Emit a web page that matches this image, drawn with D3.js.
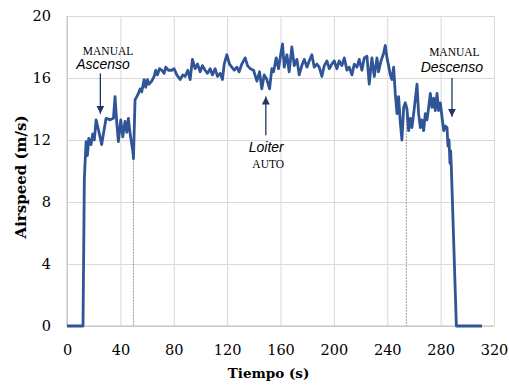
<!DOCTYPE html>
<html>
<head>
<meta charset="utf-8">
<script src="https://cdn.jsdelivr.net/npm/d3@7"></script>
<style>
  body { margin: 0; background: #fff; }
  svg { display: block; }
</style>
</head>
<body>
<div id="chart"></div>
<script>
// datos
const tiempo = [0, 12, 13, 14.3, 15.3, 16.3, 18, 19.3, 20.5, 21.8, 24, 26, 27.3, 29.3, 32.3, 34.8, 36, 37.3, 38.5,
  40.3, 41.8, 43.5, 44.8, 46, 47.3, 49.3, 49.8, 51, 52.3, 53.5, 54.8, 56, 57.8, 59, 60.3, 61.5, 63.5, 65.3,
  66.5, 67.8, 69.3, 71, 72.8, 74, 76, 78.5, 80.3, 82.3, 84.8, 86.8, 88.5, 90.5, 92.3, 94, 96, 97.8, 99.8,
  101.5, 103.5, 105.3, 107.3, 109, 111, 112.8, 114.8, 116.5, 117.8, 119.8, 121.8, 123.5, 125.3, 127.3, 129,
  131, 133.5, 135.3, 137.3, 139.8, 142.3, 144.3, 146, 147.8, 149.8, 151.8, 153.5, 154.8, 156.8, 158.5, 160.3,
  161.5, 162.8, 164.8, 166.5, 168.5, 170.3, 172.3, 174, 176, 177.8, 179.8, 181.5, 183.5, 185.3, 187.3, 189,
  191, 192.8, 194.8, 196.5, 198.5, 200.3, 202.3, 204, 206, 207.8, 209.8, 211.5, 213.5, 215.3, 217.3, 219,
  221, 222.8, 224.8, 226.5, 228.5, 230.3, 232.3, 233.5, 235.3, 237.3, 238.5, 239.8, 241, 242.3, 243.5, 244.8,
  246, 247.3, 248.5, 249.8, 251, 252.3, 253.5, 254.8, 256, 257.3, 258.5, 259.8, 261, 262.3, 263.5, 264.8,
  266, 267.3, 268.5, 269.8, 271, 272.3, 273.5, 274.8, 276, 277.3, 278.5, 279.8, 281, 282.3, 283.5, 284.8,
  285.5, 286.3, 287, 287.5, 288, 291.8, 311];
const airspeed = [0, 0, 9.5, 11.9, 11.0, 12.1, 11.7, 12.4, 12.0, 13.3, 12.5, 11.7, 12.4, 13.4, 13.3, 13.4, 14.8, 13.1, 11.9,
  13.3, 12.2, 13.2, 12.5, 13.4, 12.4, 11.3, 10.8, 14.6, 14.8, 15.0, 15.3, 15.1, 15.9, 15.4, 15.9, 15.6, 15.8, 16.1,
  16.5, 16.2, 16.6, 16.5, 16.3, 16.7, 16.5, 16.5, 16.6, 16.2, 15.9, 16.2, 16.1, 16.5, 15.9, 17.2, 16.6, 16.9, 16.4,
  16.8, 16.5, 16.3, 16.6, 16.2, 16.6, 16.1, 16.3, 15.9, 16.9, 17.5, 16.9, 16.7, 16.5, 16.7, 16.4,
  16.9, 17.3, 16.8, 16.6, 16.5, 15.8, 16.4, 15.3, 16.2, 15.9, 15.3, 16.6, 16.4, 17.3, 16.6, 17.6,
  18.2, 16.7, 17.5, 16.4, 18.0, 16.8, 17.2, 16.2, 16.8, 17.2, 16.7, 17.1, 17.5, 16.7, 16.9, 16.7,
  16.1, 16.8, 17.1, 16.6, 16.9, 17.1, 16.6, 17.1, 16.8, 17.3, 16.5, 16.7, 16.2, 16.9, 16.7, 17.2,
  16.5, 17.3, 17.4, 15.6, 17.3, 16.1, 17.3, 16.4, 17.1, 17.6, 18.1, 17.3, 16.8, 16.2, 15.9, 16.7,
  15.0, 13.7, 14.8, 13.1, 12.0, 14.1, 14.4, 14.0, 12.6, 13.4, 12.8, 13.7, 14.6, 15.6, 13.7, 12.8,
  13.3, 12.6, 13.7, 13.3, 14.1, 15.0, 14.1, 14.7, 13.9, 15.0, 13.9, 14.4, 13.5, 12.6, 12.9, 12.8,
  11.6, 12.0, 10.5, 11.3, 10.3, 0, 0];

const xTicks = [0, 40, 80, 120, 160, 200, 240, 280, 320];
const yTicks = [0, 4, 8, 12, 16, 20];

// cambios de modo (linea punteada)
const cambioTiempo = [49.8, 254.3];
const cambioValor = [10.8, 14.0];

const width = 509;
const height = 385;
const margin = {top: 16, right: 15, bottom: 59, left: 67};
const plotW = width - margin.left - margin.right;
const plotH = height - margin.top - margin.bottom;

const LINE_COLOR = '#2f5597';
const ARROW_COLOR = '#1f3864';

const x = d3.scaleLinear().domain([0, 320]).range([0, plotW]);
const y = d3.scaleLinear().domain([0, 20]).range([plotH, 0]);

const svg = d3.select('#chart')
  .append('svg')
  .attr('width', width)
  .attr('height', height);

const defs = svg.append('defs');
defs.append('marker')
  .attr('id', 'flecha')
  .attr('viewBox', '0 0 10 10')
  .attr('refX', 10)
  .attr('refY', 5)
  .attr('markerUnits', 'userSpaceOnUse')
  .attr('markerWidth', 8)
  .attr('markerHeight', 8)
  .attr('orient', 'auto')
  .append('path')
  .attr('d', 'M0,0 L10,5 L0,10 z')
  .attr('fill', ARROW_COLOR);

const g = svg.append('g')
  .attr('transform', `translate(${margin.left}, ${margin.top})`);

// rejilla y ejes
const yAxis = g.append('g')
  .call(d3.axisLeft(y).tickValues(yTicks).tickSizeInner(-plotW).tickSizeOuter(0).tickPadding(16));
yAxis.select('.domain').remove();
yAxis.selectAll('line').attr('stroke', '#d9d9d9');

const xAxis = g.append('g')
  .attr('transform', `translate(0, ${plotH})`)
  .call(d3.axisBottom(x).tickValues(xTicks).tickSizeInner(-plotH).tickSizeOuter(0).tickPadding(18.5));
xAxis.select('.domain').remove();
xAxis.selectAll('line').attr('stroke', '#d9d9d9');

g.selectAll('.tick text')
  .attr('fill', '#000')
  .style('font-family', '"DejaVu Serif", serif')
  .style('font-size', '14.5px');

g.append('line')
  .attr('x1', 0).attr('x2', 0).attr('y1', 0).attr('y2', plotH)
  .attr('stroke', '#bfbfbf');
g.append('line')
  .attr('x1', 0).attr('x2', plotW).attr('y1', plotH).attr('y2', plotH)
  .attr('stroke', '#bfbfbf');

// lineas punteadas
g.selectAll('.cambio')
  .data(cambioTiempo)
  .enter()
  .append('line')
  .attr('class', 'cambio')
  .attr('x1', d => x(d)).attr('x2', d => x(d))
  .attr('y1', (d, i) => y(cambioValor[i])).attr('y2', y(0))
  .attr('stroke', '#9a9a9a')
  .attr('stroke-width', 1)
  .attr('stroke-dasharray', '2,1');

// serie
const serie = tiempo.map((t, i) => [t, airspeed[i]]);
g.append('path')
  .datum(serie)
  .attr('fill', 'none')
  .attr('stroke', LINE_COLOR)
  .attr('stroke-width', 2.8)
  .attr('stroke-linejoin', 'round')
  .attr('d', d3.line().x(d => x(d[0])).y(d => y(d[1])));

// anotaciones
function flecha(t, v0, v1) {
  g.append('line')
    .attr('x1', x(t)).attr('x2', x(t))
    .attr('y1', y(v0)).attr('y2', y(v1))
    .attr('stroke', ARROW_COLOR)
    .attr('stroke-width', 1.3)
    .attr('marker-end', 'url(#flecha)');
}
function etiqueta(txt, t, v, italic) {
  g.append('text')
    .text(txt)
    .attr('x', x(t))
    .attr('y', y(v))
    .attr('text-anchor', 'middle')
    .style('font-family', italic ? '"Liberation Sans", Arial, sans-serif' : '"Liberation Serif", "Times New Roman", serif')
    .style('font-style', italic ? 'italic' : 'normal')
    .style('font-size', italic ? '14px' : '11.5px')
    .attr('fill', '#000');
}

flecha(25, 16.3, 13.7);
etiqueta('MANUAL', 30.8, 17.5, false);
etiqueta('Ascenso', 27, 16.6, true);

flecha(149, 12.3, 14.8);
etiqueta('Loiter', 149.3, 11.2, true);
etiqueta('AUTO', 150.8, 10.2, false);

flecha(288.5, 16, 13.5);
etiqueta('MANUAL', 290.3, 17.45, false);
etiqueta('Descenso', 288.4, 16.4, true);

// titulos de ejes
svg.append('text')
  .text('Tiempo (s)')
  .attr('x', 268.5)
  .attr('y', 378)
  .attr('text-anchor', 'middle')
  .style('font-family', '"DejaVu Serif", serif')
  .style('font-weight', 'bold')
  .style('font-size', '13.5px');

svg.append('text')
  .text('Airspeed (m/s)')
  .attr('transform', 'translate(26, 177) rotate(-90)')
  .attr('text-anchor', 'middle')
  .style('font-family', '"DejaVu Serif", serif')
  .style('font-weight', 'bold')
  .style('font-size', '15px');
</script>
</body>
</html>
